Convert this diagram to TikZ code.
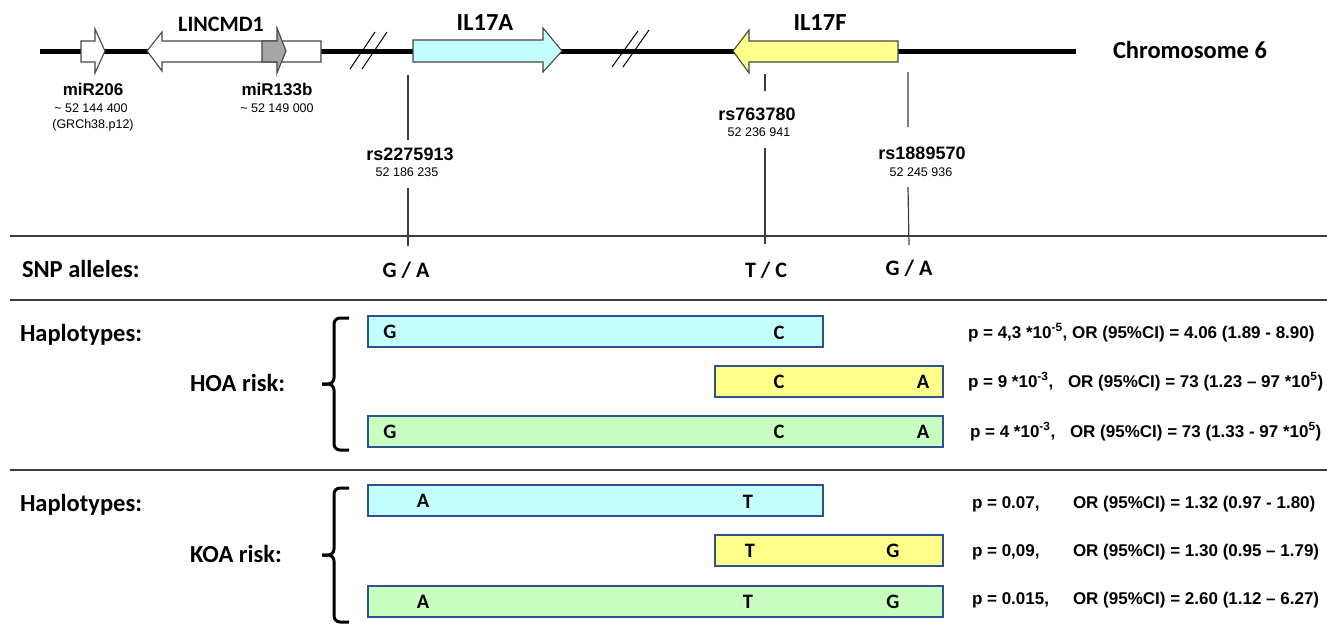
\documentclass[tikz,border=0pt]{standalone}
\usepackage{fontspec}
\setmainfont{Liberation Sans}
\newfontfamily\calfont{Carlito}
\newfontfamily\arialfont{Liberation Sans}
\definecolor{cyanf}{RGB}{196,255,255}
\definecolor{yelf}{RGB}{255,255,140}
\definecolor{grnf}{RGB}{200,255,192}
\definecolor{barblue}{RGB}{47,82,143}
\definecolor{mirgray}{RGB}{166,166,166}
\definecolor{rulegray}{RGB}{60,60,60}
\definecolor{edgegray}{RGB}{70,70,70}
\begin{document}
\begin{tikzpicture}[x=1pt,y=-1pt,
  hd/.style={font=\calfont\bfseries\fontsize{24.5}{28}\selectfont, inner sep=0pt, outer sep=0pt},
  gl/.style={font=\calfont\bfseries\fontsize{22}{26}\selectfont, inner sep=0pt, outer sep=0pt},
  al/.style={font=\calfont\bfseries\fontsize{22}{26}\selectfont, inner sep=0pt, outer sep=0pt},
  bl/.style={font=\calfont\bfseries\fontsize{20.5}{24}\selectfont, inner sep=0pt, outer sep=0pt, anchor=base},
  mir/.style={font=\arialfont\bfseries\fontsize{17}{20}\selectfont, inner sep=0pt, outer sep=0pt},
  rsl/.style={font=\arialfont\bfseries\fontsize{18}{21}\selectfont, inner sep=0pt, outer sep=0pt},
  num/.style={font=\arialfont\fontsize{12.5}{15}\selectfont, inner sep=0pt, outer sep=0pt},
  st/.style={font=\arialfont\bfseries\fontsize{17}{20}\selectfont, inner sep=0pt, outer sep=0pt, anchor=base west},
  chrom/.style={line width=5pt, black},
  brk/.style={line width=1pt, black},
  gene/.style={draw=edgegray, line width=1.1pt, line join=miter},
  tick/.style={draw=rulegray, line width=1.2pt},
  rule/.style={draw=rulegray, line width=2pt},
  barbox/.style={draw=barblue, line width=1.6pt, inner sep=0pt, outer sep=0pt, minimum height=31pt, anchor=north west},
  brace/.style={draw=black, line width=3pt, rounded corners=6pt}
]
\useasboundingbox (0,0) rectangle (1327,635);

% chromosome
\coordinate (chrL) at (40,51);
\coordinate (chrR) at (1076,51);
\draw[chrom] (chrL) -- (chrR);
% break marks
\draw[brk] (350,69) -- (375,32) (362,69) -- (387,32);
\draw[brk] (612,67) -- (638,31) (623,67) -- (649,30);

% genes
\draw[gene, fill=white] (81,41) -- (95,41) -- (95,29) -- (105,51) -- (95,73) -- (95,62) -- (81,62) -- cycle;
\draw[gene, fill=white] (321,41) -- (162,41) -- (162,32) -- (147,51) -- (162,71) -- (162,62) -- (321,62) -- cycle;
\draw[gene, fill=mirgray] (262,41) -- (277,41) -- (277,28) -- (286,51) -- (277,73) -- (277,62) -- (262,62) -- cycle;
\draw[gene, fill=cyanf] (413,40) -- (543,40) -- (543,28) -- (562,51) -- (543,72) -- (543,62) -- (413,62) -- cycle;
\draw[gene, fill=yelf] (898,41) -- (749,41) -- (749,30) -- (733,51) -- (749,73) -- (749,62) -- (898,62) -- cycle;

\node[gl, anchor=base] (lincmd) at (221,31) {LINCMD1};
\node[hd, anchor=base] (il17a) at (485,30) {IL17A};
\node[hd, anchor=base] (il17f) at (820,30) {IL17F};
\node[hd, anchor=base west] (chr) at (1113,58) {Chromosome 6};

\node[mir, anchor=base] (mir206) at (93,95) {miR206};
\node[num, anchor=base] (mir206n) at (91,112) {\textasciitilde\ 52 144 400};
\node[num, anchor=base] (grch) at (93,128) {(GRCh38.p12)};
\node[mir, anchor=base] (mir133) at (277,95) {miR133b};
\node[num, anchor=base] (mir133n) at (277,112) {\textasciitilde\ 52 149 000};

% SNP labels
\node[rsl, anchor=base] (rs1) at (410,160) {rs2275913};
\node[num, anchor=base] (rs1n) at (407,176) {52 186 235};
\node[rsl, anchor=base] (rs2) at (757,120) {rs763780};
\node[num, anchor=base] (rs2n) at (759,136) {52 236 941};
\node[rsl, anchor=base] (rs3) at (922,159) {rs1889570};
\node[num, anchor=base] (rs3n) at (921,176) {52 245 936};

% SNP ticks
\coordinate (s1a) at (408,75);  \coordinate (s1b) at (408,140);
\coordinate (s1c) at (408,188); \coordinate (s1d) at (408,246);
\coordinate (s2a) at (765,74);  \coordinate (s2b) at (765,91);
\coordinate (s2c) at (765,148); \coordinate (s2d) at (765,244);
\coordinate (s3a) at (908,72);  \coordinate (s3b) at (908,127);
\coordinate (s3c) at (908,187); \coordinate (s3d) at (909,245);
\draw[tick] (s1a) -- (s1b) (s1c) -- (s1d);
\draw[tick] (s2a) -- (s2b) (s2c) -- (s2d);
\draw[tick] (s3a) -- (s3b) (s3c) -- (s3d);

% rules
\coordinate (r1L) at (10,236); \coordinate (r1R) at (1327,236);
\coordinate (r2L) at (10,300); \coordinate (r2R) at (1327,300);
\coordinate (r3L) at (10,470); \coordinate (r3R) at (1327,470);
\draw[rule] (r1L) -- (r1R);
\draw[rule] (r2L) -- (r2R);
\draw[rule] (r3L) -- (r3R);

% SNP alleles
\node[hd, anchor=base west] (snp) at (22,277) {SNP alleles:};
\node[al, anchor=base] (a1) at (406,277) {G / A};
\node[al, anchor=base] (a2) at (766,277) {T / C};
\node[al, anchor=base] (a3) at (909,275) {G / A};

% HOA
\node[hd, anchor=base west] (hap1) at (20,341) {Haplotypes:};
\node[hd, anchor=base west] (hoa) at (190,391) {HOA risk:};
\draw[brace] (349,318) -| (334,384) -- (322,384);
\draw[brace] (322,384) -- (334,384) |- (349,450);

\node[barbox, fill=cyanf, minimum width=455pt] (h1) at (368,316) {};
\node[barbox, fill=yelf, minimum width=228pt] (h2) at (715,366) {};
\node[barbox, fill=grnf, minimum width=575pt] (h3) at (368,416) {};
\node[bl] (h1g) at (390,338) {G};
\node[bl] (h1c) at (779,339) {C};
\node[bl] (h2c) at (779,388) {C};
\node[bl] (h2a) at (923,388) {A};
\node[bl] (h3g) at (390,438) {G};
\node[bl] (h3c) at (779,438) {C};
\node[bl] (h3a) at (923,438) {A};

\node[st] (hp1) at (968,338) {p = 4,3 *10\textsuperscript{-5}, OR (95\%CI) = 4.06 (1.89 - 8.90)};
\node[st] (hp2) at (968,387) {p = 9 *10\textsuperscript{-3},};
\node[st] (ho2) at (1068,387) {OR (95\%CI) = 73 (1.23 – 97 *10\textsuperscript{5})};
\node[st] (hp3) at (970,437) {p = 4 *10\textsuperscript{-3},};
\node[st] (ho3) at (1070,437) {OR (95\%CI) = 73 (1.33 - 97 *10\textsuperscript{5})};

% KOA
\node[hd, anchor=base west] (hap2) at (20,511) {Haplotypes:};
\node[hd, anchor=base west] (koa) at (190,562) {KOA risk:};
\draw[brace] (349,488) -| (334,555) -- (322,555);
\draw[brace] (322,555) -- (334,555) |- (349,622);

\node[barbox, fill=cyanf, minimum width=455pt] (k1) at (368,485) {};
\node[barbox, fill=yelf, minimum width=228pt] (k2) at (715,535) {};
\node[barbox, fill=grnf, minimum width=575pt] (k3) at (368,586) {};
\node[bl] (k1a) at (423,507) {A};
\node[bl] (k1t) at (748,508) {T};
\node[bl] (k2t) at (750,557) {T};
\node[bl] (k2g) at (893,557) {G};
\node[bl] (k3a) at (423,608) {A};
\node[bl] (k3t) at (748,608) {T};
\node[bl] (k3g) at (893,608) {G};

\node[st] (kp1) at (972,508) {p = 0.07,};
\node[st] (ko1) at (1073,508) {OR (95\%CI) = 1.32 (0.97 - 1.80)};
\node[st] (kp2) at (972,556) {p = 0,09,};
\node[st] (ko2) at (1073,556) {OR (95\%CI) = 1.30 (0.95 – 1.79)};
\node[st] (kp3) at (972,604) {p = 0.015,};
\node[st] (ko3) at (1073,604) {OR (95\%CI) = 2.60 (1.12 – 6.27)};
\end{tikzpicture}
\end{document}
